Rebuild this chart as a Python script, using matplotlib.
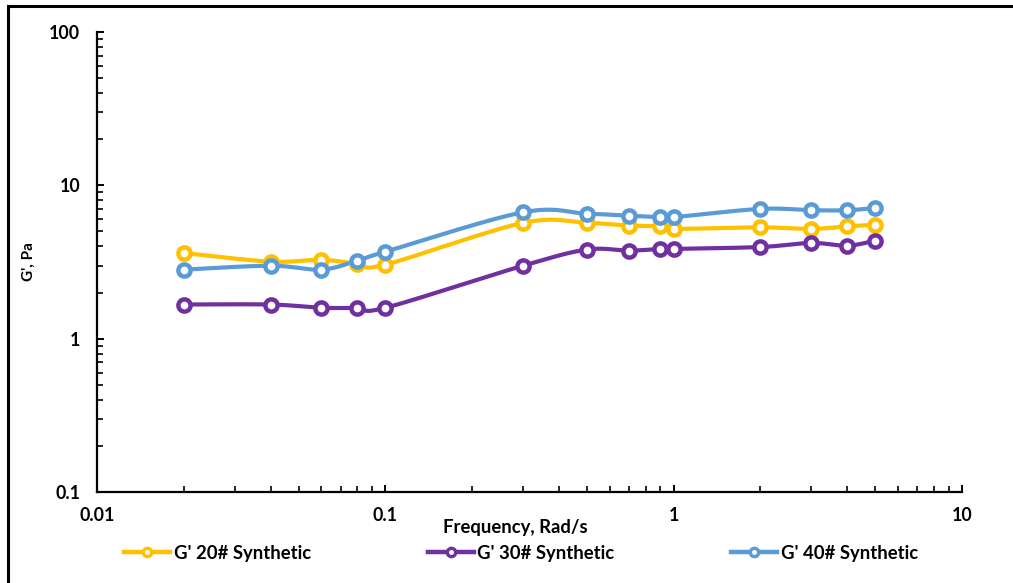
import numpy as np
import matplotlib
matplotlib.use("Agg")
import matplotlib.pyplot as plt
from matplotlib.lines import Line2D
from matplotlib.ticker import LogLocator, FixedLocator, FixedFormatter, NullFormatter

plt.rcParams['font.family'] = ['Lato', 'DejaVu Sans']

# Angular frequency (rad/s)
freq = [0.02, 0.04, 0.06, 0.08, 0.1, 0.3, 0.5, 0.7, 0.9, 1, 2, 3, 4, 5]

# Storage modulus G' (Pa) for each sample
g20 = [3.62, 3.18, 3.27, 3.08, 3.04, 5.69, 5.69, 5.46, 5.40, 5.20, 5.32, 5.20, 5.40, 5.54]
g30 = [1.67, 1.67, 1.59, 1.59, 1.59, 2.99, 3.81, 3.75, 3.85, 3.85, 3.96, 4.21, 4.04, 4.36]
g40 = [2.82, 2.99, 2.82, 3.23, 3.69, 6.67, 6.53, 6.34, 6.20, 6.20, 7.02, 6.88, 6.88, 7.12]

labels = ["G' 20# Synthetic", "G' 30# Synthetic", "G' 40# Synthetic"]
colors = ["#FFC000", "#7030A0", "#5B9BD5"]

x_ticks = [0.01, 0.1, 1, 10]
x_tick_labels = ["0.01", "0.1", "1", "10"]
y_ticks = [0.1, 1, 10, 100]
y_tick_labels = ["0.1", "1", "10", "100"]


def smooth_log(xs, ys, n=40, t=1.0 / 6.0):
    """Cardinal Bezier smoothing done in log-log space."""
    p = np.column_stack([np.log10(xs), np.log10(ys)])
    m = len(p)
    out = [p[0]]
    for i in range(m - 1):
        p0 = p[max(i - 1, 0)]
        p1 = p[i]
        p2 = p[i + 1]
        p3 = p[min(i + 2, m - 1)]
        c1 = p1 + (p2 - p0) * t
        c2 = p2 - (p3 - p1) * t
        s = np.linspace(0, 1, n)[1:, None]
        seg = ((1 - s) ** 3) * p1 + 3 * ((1 - s) ** 2) * s * c1 \
            + 3 * (1 - s) * s ** 2 * c2 + s ** 3 * p2
        out.extend(seg)
    out = np.array(out)
    return 10 ** out[:, 0], 10 ** out[:, 1]


fig = plt.figure(figsize=(10.13, 5.83), dpi=100)
ax = fig.add_axes([97 / 1013, 1 - 492 / 583, (962 - 97) / 1013, (492 - 32) / 583])

for ys, c in zip([g20, g30, g40], colors):
    sx, sy = smooth_log(freq, ys)
    ax.plot(sx, sy, color=c, lw=3.0, solid_capstyle='round', zorder=2)
    ax.plot(freq, ys, linestyle='none', marker='o', ms=8.8, mfc='white',
            mec=c, mew=3.2, zorder=3)

ax.set_xscale('log')
ax.set_yscale('log')
ax.set_xlim(0.01, 10)
ax.set_ylim(0.1, 100)

ax.xaxis.set_major_locator(FixedLocator(x_ticks))
ax.xaxis.set_major_formatter(FixedFormatter(x_tick_labels))
ax.yaxis.set_major_locator(FixedLocator(y_ticks))
ax.yaxis.set_major_formatter(FixedFormatter(y_tick_labels))
ax.xaxis.set_minor_locator(LogLocator(base=10, subs=np.arange(2, 10)))
ax.yaxis.set_minor_locator(LogLocator(base=10, subs=np.arange(2, 10)))
ax.xaxis.set_minor_formatter(NullFormatter())
ax.yaxis.set_minor_formatter(NullFormatter())

for side in ['top', 'right']:
    ax.spines[side].set_visible(False)
for side in ['left', 'bottom']:
    ax.spines[side].set_linewidth(1.6)
    ax.spines[side].set_color('black')

ax.tick_params(axis='both', which='major', direction='in', length=5, width=1.4,
               labelsize=12.8)
ax.tick_params(axis='both', which='minor', direction='in', length=4, width=1.2)
ax.tick_params(axis='x', which='major', pad=11)
ax.tick_params(axis='y', which='major', pad=12)
for lab in ax.get_xticklabels() + ax.get_yticklabels():
    lab.set_fontweight('bold')

fig.text(515 / 1013, 1 - 528 / 583, "Frequency, Rad/s", ha='center', va='center',
         fontsize=13.3, fontweight='bold')
fig.text(29 / 1013, 1 - 262 / 583, "G', Pa", ha='center', va='center',
         rotation=90, fontsize=11, fontweight='bold')

handles = [Line2D([0], [0], color=c, lw=3.2, marker='o', ms=6, mfc='white',
                  mec=c, mew=2.4) for c in colors]
fig.legend(handles, labels, loc='center', bbox_to_anchor=(521 / 1013, 1 - 553 / 583),
           ncol=3, frameon=False, handlelength=2.5, columnspacing=6.3,
           handletextpad=0.2, prop={'weight': 'bold', 'size': 13.3})

# outer frame lines (top and left edges)
fig.add_artist(Line2D([8 / 1013, 1.0], [1 - 6 / 583, 1 - 6 / 583],
                      transform=fig.transFigure, color='black', lw=2.2))
fig.add_artist(Line2D([8 / 1013, 8 / 1013], [0.0, 1 - 6 / 583],
                      transform=fig.transFigure, color='black', lw=2.2))

fig.savefig("out.png", dpi=100, facecolor='white')
